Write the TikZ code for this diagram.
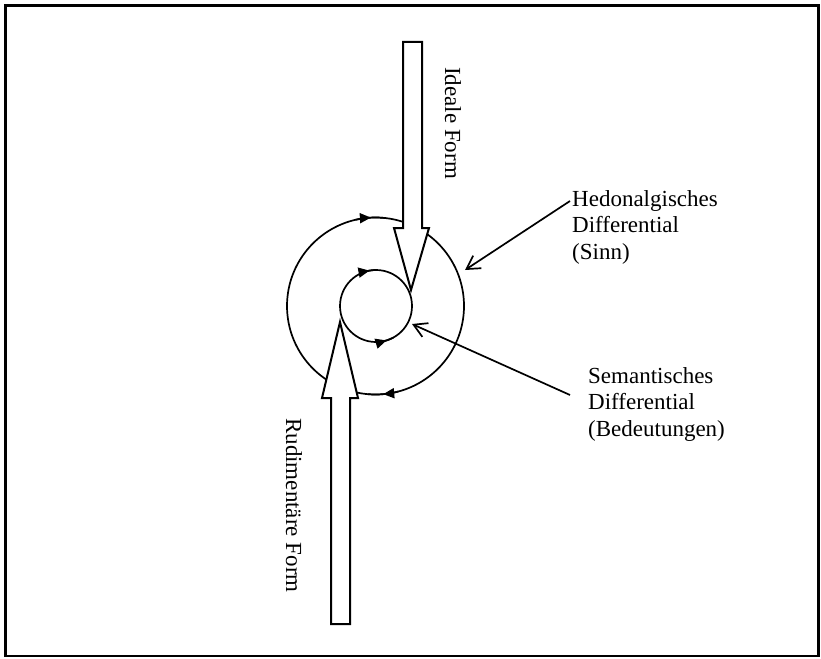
\documentclass[tikz,border=0pt]{standalone}
\usepackage{fontspec}
\setmainfont{Liberation Serif}
\usetikzlibrary{arrows.meta,decorations.markings}
\tikzset{
  frame/.style={line width=2.2pt},
  ring/.style={line width=1.7pt},
  bigarrow/.style={line width=2pt, fill=white, line join=miter},
  tick/.style={line width=1.7pt, decoration={markings, mark=at position 0.5 with {\arrow{Triangle[length=11pt,width=10pt]}}}, postaction=decorate},
  pointer/.style={line width=1.7pt, -{Straight Barb[length=13pt,width=15pt]}},
  lbl/.style={font=\fontsize{23}{26.5}\selectfont, inner sep=0pt, align=left},
}
\begin{document}
\begin{tikzpicture}[x=1pt,y=-1pt]
\useasboundingbox (0,0) rectangle (821,658);
\draw[frame] (5.5,5.5) rectangle (818.5,656);

\coordinate (bc) at (375.5,306);
\coordinate (sc) at (376,306);

% circles
\draw[ring] (bc) circle[radius=88.5];
\draw[ring] (sc) circle[radius=36];

% direction ticks
\draw[tick] (bc) ++(257:88.5) arc[start angle=257, end angle=277, radius=88.5];
\draw[tick] (bc) ++(75:88.5) arc[start angle=75, end angle=95, radius=88.5];
\draw[tick] (sc) ++(247:36) arc[start angle=247, end angle=272, radius=36];
\draw[tick] (sc) ++(85:36) arc[start angle=85, end angle=61, radius=36];

% big block arrows
\draw[bigarrow] (403,42) -- (422,42) -- (422,228) -- (429,228) -- (411,290)
  -- (394,228) -- (403,228) -- cycle;
\draw[bigarrow] (331,624) -- (350,624) -- (350,398) -- (358,398) -- (340,322)
  -- (322,398) -- (331,398) -- cycle;

% rotated labels
\node[lbl, rotate=-90, anchor=base west] (ideal) at (445,67) {Ideale Form};
\node[lbl, rotate=-90, anchor=base west] (rudi) at (286,418) {Rudimentäre Form};

% right labels
\node[lbl, anchor=north west] (hed) at (572,190) {Hedonalgisches\\Differential\\(Sinn)};
\node[lbl, anchor=north west] (sem) at (588,367) {Semantisches\\Differential\\(Bedeutungen)};

% pointers
\coordinate (hs) at (570,201);
\coordinate (ht) at (465,270);
\coordinate (ss) at (570,395);
\coordinate (st) at (412,324);
\draw[pointer] (hs) -- (ht);
\draw[pointer] (ss) -- (st);
\end{tikzpicture}
\end{document}
